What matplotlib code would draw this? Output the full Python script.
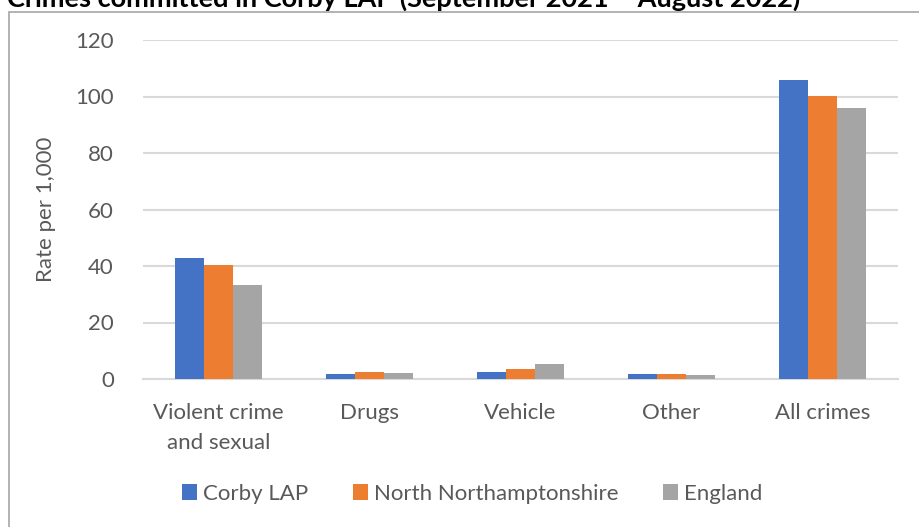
import matplotlib
matplotlib.use("Agg")
import matplotlib.pyplot as plt
import numpy as np
from matplotlib.patches import Rectangle

plt.rcParams["font.family"] = ["Lato", "DejaVu Sans"]

categorias = ["Violent crime\nand sexual", "Drugs", "Vehicle", "Other", "All crimes"]
corby = [42.7, 1.8, 2.5, 1.9, 105.8]
north_northants = [40.4, 2.6, 3.4, 1.7, 100.2]
england = [33.3, 2.2, 5.4, 1.3, 95.9]

series = ["Corby LAP", "North Northamptonshire", "England"]
cores = ["#4472c4", "#ed7d31", "#a5a5a5"]
TEXTO = "#595959"
GRADE = "#d9d9d9"
FS = 16

fig = plt.figure(figsize=(9.2, 5.27), dpi=100)
ax = fig.add_axes([143 / 920, 1 - 379 / 527, 755 / 920, 339 / 527])

x = np.arange(len(categorias))
larg = 0.19
for i, (valores, nome, cor) in enumerate(zip([corby, north_northants, england], series, cores)):
    ax.bar(x + (i - 1) * larg, valores, larg, color=cor, label=nome, zorder=3)

ax.set_xlim(-0.5, len(categorias) - 0.5)
ax.set_ylim(0, 120)
ax.set_yticks(range(0, 121, 20))
ax.grid(axis="y", color=GRADE, linewidth=1.5, zorder=0)
for lado in ["top", "right", "left"]:
    ax.spines[lado].set_visible(False)
ax.spines["bottom"].set_color(GRADE)
ax.spines["bottom"].set_linewidth(1.5)
ax.tick_params(axis="both", length=0, labelsize=FS, labelcolor=TEXTO)
ax.tick_params(axis="y", pad=21)
ax.tick_params(axis="x", pad=17)
ax.set_xticks(x)
ax.set_xticklabels(categorias, linespacing=1.65)
ax.set_ylabel("Rate per 1,000", fontsize=FS, color=TEXTO, labelpad=14)

ax.legend(loc="center", bbox_to_anchor=(472 / 920, 1 - 494 / 527),
          bbox_transform=fig.transFigure, ncol=3, frameon=False,
          fontsize=FS, labelcolor=TEXTO, handlelength=0.7, handleheight=0.7,
          handletextpad=0.25, columnspacing=2.0)

# moldura do gráfico (cortada, como no original)
fig.patches.append(Rectangle((9 / 920, -0.1), 1.2, 1.1 - 12 / 527,
                             transform=fig.transFigure, fill=False,
                             edgecolor="#a6a6a6", linewidth=1.2))

fig.text(7 / 920, 1 - 7 / 527,
         "Crimes committed in Corby LAP (September 2021 \u2013 August 2022)",
         fontsize=19.5, fontweight="bold", color="black", va="baseline", ha="left")

fig.savefig("out.png", dpi=100)
